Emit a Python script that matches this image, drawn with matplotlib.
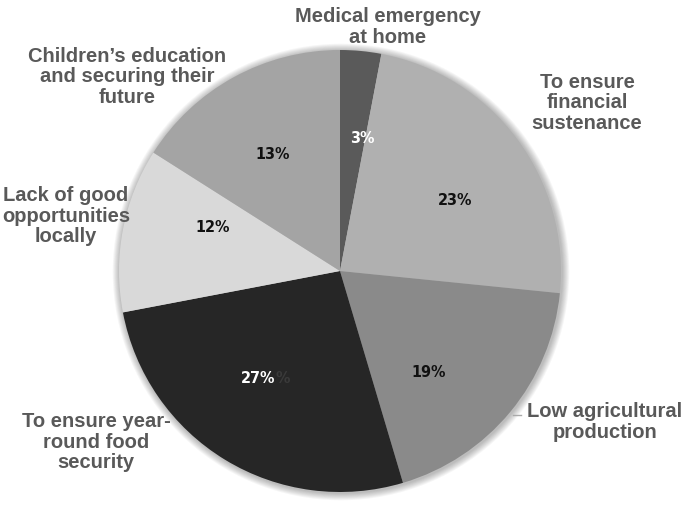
import numpy as np
import matplotlib
matplotlib.use('Agg')
import matplotlib.pyplot as plt

# slice order, clockwise from 12 o'clock
categories = ['Medical emergency\nat home',
              'To ensure\nfinancial\nsustenance',
              'Low agricultural\nproduction',
              'To ensure year-\nround food\nsecurity',
              'Lack of good\nopportunities\nlocally',
              "Children\u2019s education\nand securing their\nfuture"]
shares = [3.0, 23.6, 18.8, 26.6, 12.0, 16.0]
# percentages printed on the slices
pct_labels = ['3%', '23%', '19%', '27%', '12%', '13%']

colors = ['#5a5a5a', '#b0b0b0', '#8a8a8a', '#262626', '#d9d9d9', '#a4a4a4']
pct_colors = ['white', '#111111', '#111111', 'white', '#111111', '#111111']
# small clockwise nudges (deg) of the percent labels from the slice middles
pct_nudge = [4, 5, 9, 6, 8, -1]

width, height, dpi = 685, 508, 100.0
fig = plt.figure(figsize=(width / dpi, height / dpi), dpi=dpi)
ax = fig.add_axes([0, 0, 1, 1])

cx, cy, r = 340, height - 271, 221

# soft shadow around the pie
for k in range(8):
    ax.add_patch(plt.Circle((cx + 1, cy - 1), r + 1 + k * 0.9, color='black',
                            alpha=0.035, lw=0, zorder=0))

wedges, _ = ax.pie(shares, colors=colors, startangle=90, counterclock=False,
                   center=(cx, cy), radius=r, frame=True,
                   wedgeprops=dict(linewidth=0))
ax.set_xlim(0, width)
ax.set_ylim(0, height)
ax.set_aspect('equal')
ax.axis('off')

for w, txt, c, nd in zip(wedges, pct_labels, pct_colors, pct_nudge):
    mid = np.deg2rad((w.theta1 + w.theta2) / 2 - nd)
    x = cx + 0.61 * r * np.cos(mid)
    y = cy + 0.61 * r * np.sin(mid)
    ax.text(x, y, txt, ha='center', va='center', fontsize=11.5,
            fontweight='bold', color=c, family='DejaVu Sans',
            fontstretch='condensed')
    if txt == '27%':
        # faint leftover "%" that shows beside the white label
        ax.text(x + 24, y, '%', ha='center', va='center', fontsize=11.5,
                fontweight='bold', color='#3a3a3a', family='DejaVu Sans',
                fontstretch='condensed')

# category labels around the pie (pixel positions from the top-left)
label_pos = [(388, 27), (587, 103), (605, 422), (96, 442), (66, 216), (127, 77)]
for txt, (px, py) in zip(categories, label_pos):
    ax.text(px, height - py, txt, ha='center', va='center', fontsize=14.5,
            fontweight='bold', color='#595959', family='Liberation Sans',
            linespacing=1.12)

# small leader mark next to "Low agricultural"
ax.plot([513, 521], [height - 415, height - 415], color='#aaaaaa', lw=1)

fig.savefig('out.png', dpi=dpi, facecolor='white')
